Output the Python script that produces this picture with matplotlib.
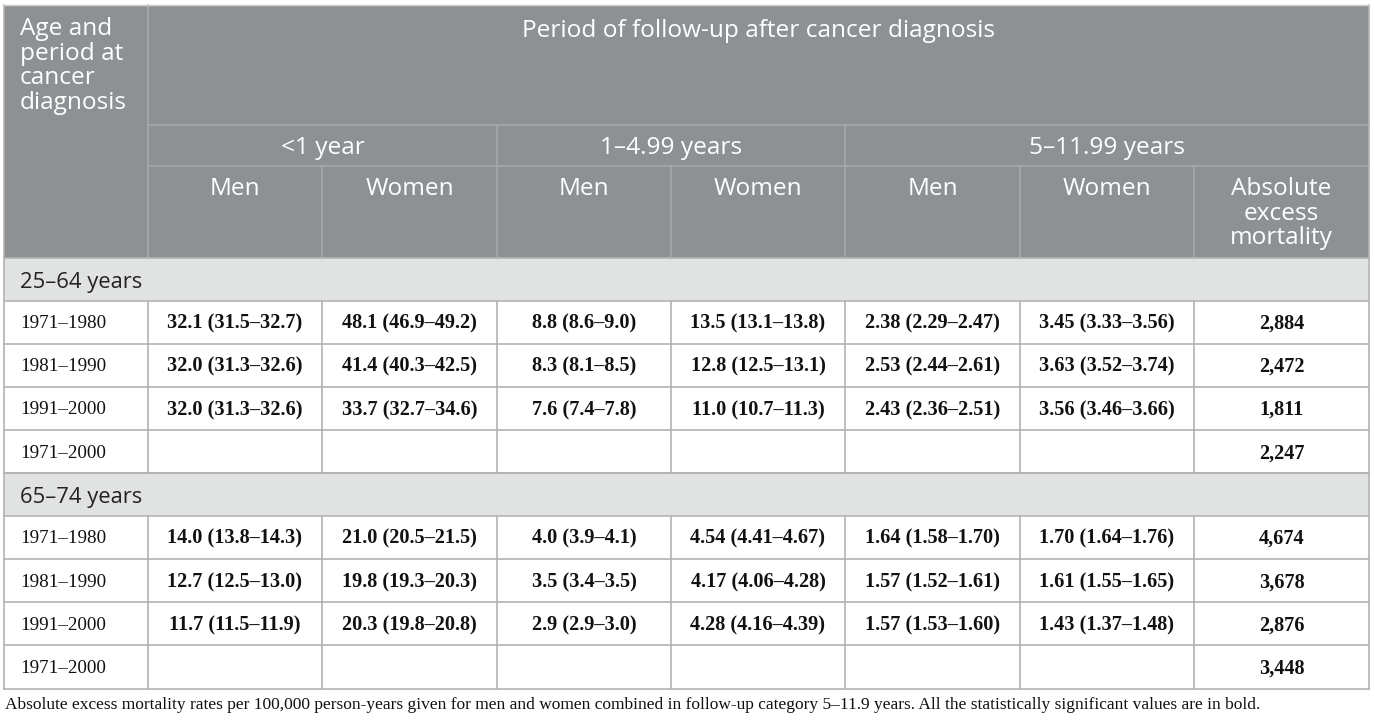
import matplotlib
matplotlib.use("Agg")
import matplotlib.pyplot as plt
from matplotlib.patches import Rectangle

# ---------------- data ----------------
row_header_title = "Age and\nperiod at\ncancer\ndiagnosis"
top_header = "Period of follow-up after cancer diagnosis"
followup_periods = ["<1 year", "1\u20134.99 years", "5\u201311.99 years"]
sub_headers = ["Men", "Women", "Men", "Women", "Men", "Women", "Absolute\nexcess\nmortality"]

groups = ["25\u201364 years", "65\u201374 years"]
periods = ["1971\u20131980", "1981\u20131990", "1991\u20132000", "1971\u20132000"]

values_25_64 = [
    ["32.1 (31.5\u201332.7)", "48.1 (46.9\u201349.2)", "8.8 (8.6\u20139.0)", "13.5 (13.1\u201313.8)",
     "2.38 (2.29\u20132.47)", "3.45 (3.33\u20133.56)", "2,884"],
    ["32.0 (31.3\u201332.6)", "41.4 (40.3\u201342.5)", "8.3 (8.1\u20138.5)", "12.8 (12.5\u201313.1)",
     "2.53 (2.44\u20132.61)", "3.63 (3.52\u20133.74)", "2,472"],
    ["32.0 (31.3\u201332.6)", "33.7 (32.7\u201334.6)", "7.6 (7.4\u20137.8)", "11.0 (10.7\u201311.3)",
     "2.43 (2.36\u20132.51)", "3.56 (3.46\u20133.66)", "1,811"],
    ["", "", "", "", "", "", "2,247"],
]
values_65_74 = [
    ["14.0 (13.8\u201314.3)", "21.0 (20.5\u201321.5)", "4.0 (3.9\u20134.1)", "4.54 (4.41\u20134.67)",
     "1.64 (1.58\u20131.70)", "1.70 (1.64\u20131.76)", "4,674"],
    ["12.7 (12.5\u201313.0)", "19.8 (19.3\u201320.3)", "3.5 (3.4\u20133.5)", "4.17 (4.06\u20134.28)",
     "1.57 (1.52\u20131.61)", "1.61 (1.55\u20131.65)", "3,678"],
    ["11.7 (11.5\u201311.9)", "20.3 (19.8\u201320.8)", "2.9 (2.9\u20133.0)", "4.28 (4.16\u20134.39)",
     "1.57 (1.53\u20131.60)", "1.43 (1.37\u20131.48)", "2,876"],
    ["", "", "", "", "", "", "3,448"],
]
group_values = [values_25_64, values_65_74]
footnote = ("Absolute excess mortality rates per 100,000 person-years given for men and women combined in "
            "follow-up category 5\u201311.9 years. All the statistically significant values are in bold.")

# ---------------- layout ----------------
W, H = 1375, 721
fig = plt.figure(figsize=(W / 100, H / 100), dpi=100)
ax = fig.add_axes([0, 0, 1, 1])
ax.set_xlim(0, W)
ax.set_ylim(H, 0)
ax.axis("off")

col_x = [4, 148, 322, 497, 671, 845, 1020, 1194, 1369]
hdr_y = [5, 125, 166, 258]
row_h = 43.2
grp_h = 42.5

HDR_BG = "#8d9194"
HDR_LINE = "#a6a9ab"
GRP_BG = "#e1e3e3"
GRID = "#b3b3b3"
SANS = ["Open Sans", "DejaVu Sans"]
SERIF = ["Liberation Serif", "DejaVu Serif"]
fs_h = 17.6
fs_g = 15.8
fs_d = 14.6
fs_p = 13.8
LS = 1.04

# header background
ax.add_patch(Rectangle((col_x[0], hdr_y[0]), col_x[-1] - col_x[0], hdr_y[3] - hdr_y[0],
                       facecolor=HDR_BG, edgecolor="none", zorder=0))
# header inner lines
ax.plot([col_x[1], col_x[1]], [hdr_y[0], hdr_y[3]], color=HDR_LINE, lw=1.2)
ax.plot([col_x[1], col_x[-1]], [hdr_y[1], hdr_y[1]], color=HDR_LINE, lw=1.2)
ax.plot([col_x[1], col_x[-1]], [hdr_y[2], hdr_y[2]], color=HDR_LINE, lw=1.2)
for xi in (3, 5):
    ax.plot([col_x[xi], col_x[xi]], [hdr_y[1], hdr_y[3]], color=HDR_LINE, lw=1.2)
for xi in (2, 4, 6, 7):
    ax.plot([col_x[xi], col_x[xi]], [hdr_y[2], hdr_y[3]], color=HDR_LINE, lw=1.2)

# header texts
ax.text(20, 17, row_header_title, color="white", fontsize=fs_h, family=SANS,
        ha="left", va="top", linespacing=LS)
ax.text((col_x[1] + col_x[-1]) / 2, 31, top_header, color="white", fontsize=fs_h,
        family=SANS, ha="center", va="center")
spans = [(1, 3), (3, 5), (5, 8)]
for lab, (a, b) in zip(followup_periods, spans):
    ax.text((col_x[a] + col_x[b]) / 2, (hdr_y[1] + hdr_y[2]) / 2 + 3, lab, color="white",
            fontsize=fs_h, family=SANS, ha="center", va="center")
for i, lab in enumerate(sub_headers):
    ax.text((col_x[i + 1] + col_x[i + 2]) / 2, 177, lab, color="white", fontsize=fs_h,
            family=SANS, ha="center", va="top", linespacing=LS)

# body
y = hdr_y[3]
for g, gname in enumerate(groups):
    ax.add_patch(Rectangle((col_x[0], y), col_x[-1] - col_x[0], grp_h,
                           facecolor=GRP_BG, edgecolor="none", zorder=0))
    ax.text(20, y + grp_h / 2 + 3, gname, color="#222222", fontsize=fs_g, family=SANS,
            ha="left", va="center")
    ax.plot([col_x[0], col_x[-1]], [y, y], color=GRID, lw=1.2)
    y += grp_h
    ax.plot([col_x[0], col_x[-1]], [y, y], color=GRID, lw=1.2)
    for r, per in enumerate(periods):
        yc = y + row_h / 2 + 1.5
        ax.text(20, yc, per, color="#111111", fontsize=fs_p, family=SERIF,
                ha="left", va="center")
        for c, val in enumerate(group_values[g][r]):
            ax.text((col_x[c + 1] + col_x[c + 2]) / 2, yc, val, color="#111111",
                    fontsize=fs_d, family=SERIF, weight="bold", ha="center", va="center")
        for xi in range(1, 8):
            ax.plot([col_x[xi], col_x[xi]], [y, y + row_h], color=GRID, lw=1.2)
        y += row_h
        ax.plot([col_x[0], col_x[-1]], [y, y], color=GRID, lw=1.2)
table_bottom = y

# outer border
ax.plot([col_x[0], col_x[0]], [hdr_y[0], table_bottom], color=GRID, lw=1.2)
ax.plot([col_x[-1], col_x[-1]], [hdr_y[0], table_bottom], color=GRID, lw=1.2)
ax.plot([col_x[0], col_x[-1]], [hdr_y[0], hdr_y[0]], color="#d0d0d0", lw=1.0)

ax.text(5, 705, footnote, color="#111111", fontsize=12.55, family=SERIF,
        ha="left", va="center")

fig.savefig("out.png", dpi=100)
